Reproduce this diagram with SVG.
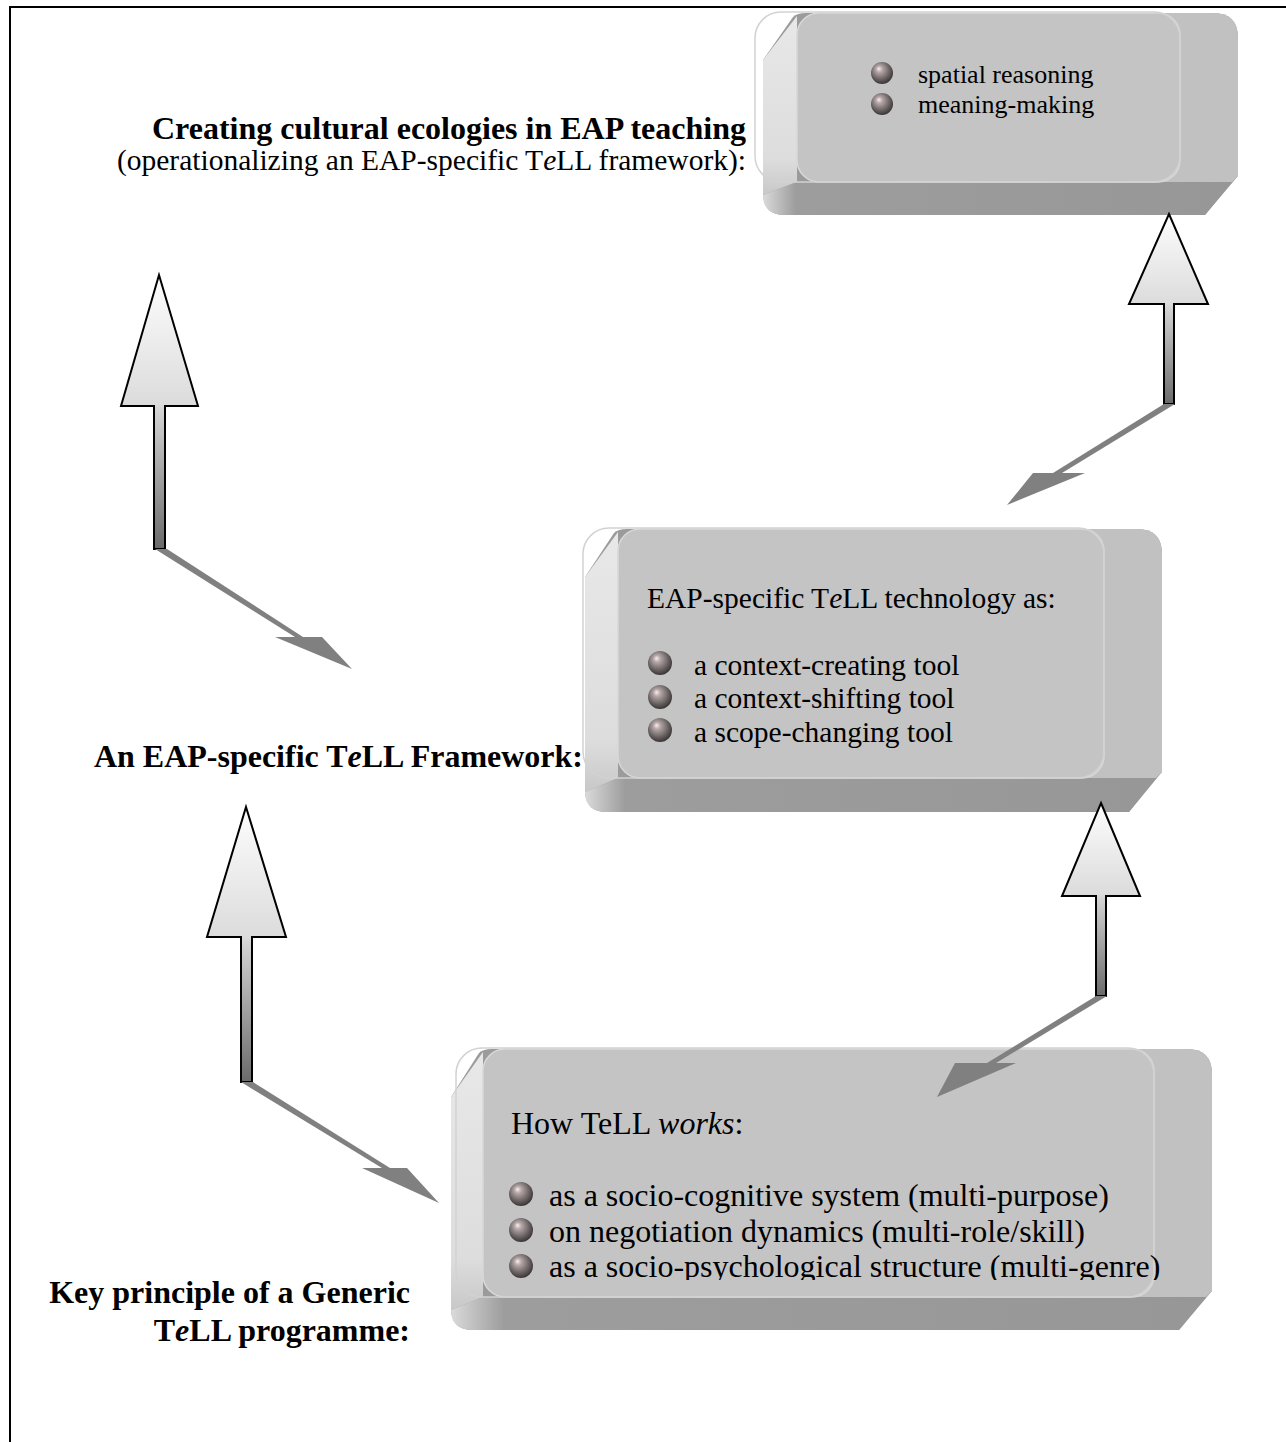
<svg xmlns="http://www.w3.org/2000/svg" width="1286" height="1442" viewBox="0 0 1286 1442">
<style>
.lbl{font-family:"Liberation Serif","Times New Roman",serif;fill:#000}
.b{font-weight:bold}
.t1{font-size:26px}
.t2{font-size:29.5px}
.t3{font-size:32px}
.lb{font-size:32px}
.silh{fill:#9b9b9b}
.rside{fill:#c1c1c1}
.lface{fill:url(#gLeft)}
.bface{fill:url(#gBottom)}
.face{fill:#c4c4c4;stroke:#d8d8d8;stroke-width:1.5}
.glass{fill:none;stroke:#d2d2d2;stroke-width:1.5}
.bul{fill:url(#gBall)}
.arr{fill:url(#gArrow);stroke:#000;stroke-width:2;stroke-linejoin:miter}
.shd{fill:#808080}
</style>
<defs>
<linearGradient id="gLeft" x1="0" y1="0" x2="0" y2="1">
<stop offset="0" stop-color="#e8e8e8"/>
<stop offset="0.8" stop-color="#dddddd"/>
<stop offset="1" stop-color="#c8c8c8"/>
</linearGradient>
<linearGradient id="gBottom" x1="0" y1="0" x2="1" y2="0">
<stop offset="0" stop-color="#dadada"/>
<stop offset="0.07" stop-color="#9d9d9d"/>
<stop offset="1" stop-color="#979797"/>
</linearGradient>
<radialGradient id="gBall" cx="0.45" cy="0.4" r="0.6" fx="0.35" fy="0.3">
<stop offset="0" stop-color="#fbecec"/>
<stop offset="0.25" stop-color="#b4a6a6"/>
<stop offset="0.7" stop-color="#6a6262"/>
<stop offset="1" stop-color="#3a3636"/>
</radialGradient>
<linearGradient id="gArrow" x1="0" y1="0" x2="0" y2="1">
<stop offset="0" stop-color="#fdfdfd"/>
<stop offset="0.47" stop-color="#dcdcdc"/>
<stop offset="0.5" stop-color="#d2d2d2"/>
<stop offset="1" stop-color="#6a6a6a"/>
</linearGradient>
<clipPath id="clipBottom"><rect x="440" y="1040" width="800" height="240"/></clipPath>
</defs>

<rect x="10" y="7" width="1300" height="1460" fill="none" stroke="#000" stroke-width="2"/>

<g id="label-top">
<text class="lbl b lb" x="746" y="139" text-anchor="end">Creating cultural ecologies in EAP teaching</text>
<text class="lbl" style="font-size:29.5px" x="746" y="170" text-anchor="end">(operationalizing an EAP-specific T<tspan font-style="italic">e</tspan>LL framework):</text>
</g>

<g id="label-middle">
<text class="lbl b lb" x="583" y="767" text-anchor="end">An EAP-specific T<tspan font-style="italic">e</tspan>LL Framework:</text>
</g>

<g id="label-bottom">
<text class="lbl b lb" x="410" y="1303" text-anchor="end">Key principle of a Generic</text>
<text class="lbl b lb" x="410" y="1341" text-anchor="end">T<tspan font-style="italic">e</tspan>LL programme:</text>
</g>

<g id="box-top">
<path class="silh" d="M763,60 L793,17 Q797,13 806,13 H1213 Q1238,13 1238,38 V176 L1205,215 H785 Q763,215 763,193 Z"/>
<path class="rside" d="M1150,13 H1213 Q1238,13 1238,38 V176 L1232,182 H1150 Z"/>
<path class="lface" d="M763,60 L797,16 V182 L763,195 Z"/>
<path class="bface" d="M797,182 H1232 L1205,215 H785 Q763,215 763,195 Z"/>
<rect class="face" x="797" y="13" width="383" height="169" rx="22"/>
<rect class="glass" x="755" y="12" width="425" height="170" rx="26"/>
<circle class="bul" cx="882" cy="73" r="11"/>
<circle class="bul" cx="882" cy="104" r="11"/>
<text class="lbl t1" x="918" y="83">spatial reasoning</text>
<text class="lbl t1" x="918" y="113">meaning-making</text>
</g>

<g id="box-middle">
<path class="silh" d="M585,577 L614,533 Q618,529 627,529 H1137 Q1162,529 1162,554 V772 L1129,812 H607 Q585,812 585,790 Z"/>
<path class="rside" d="M1074,529 H1137 Q1162,529 1162,554 V772 L1156,778 H1074 Z"/>
<path class="lface" d="M585,577 L618,532 V778 L585,792 Z"/>
<path class="bface" d="M618,778 H1156 L1129,812 H607 Q585,812 585,792 Z"/>
<rect class="face" x="618" y="529" width="486" height="249" rx="22"/>
<rect class="glass" x="583" y="528" width="521" height="250" rx="26"/>
<text class="lbl t2" x="647" y="608">EAP-specific T<tspan font-style="italic">e</tspan>LL technology as:</text>
<circle class="bul" cx="660" cy="663" r="12"/>
<circle class="bul" cx="660" cy="697" r="12"/>
<circle class="bul" cx="660" cy="730" r="12"/>
<text class="lbl t2" x="694" y="675">a context-creating tool</text>
<text class="lbl t2" x="694" y="708">a context-shifting tool</text>
<text class="lbl t2" x="694" y="742">a scope-changing tool</text>
</g>

<g id="box-bottom">
<path class="silh" d="M451,1097 L479,1053 Q483,1049 492,1049 H1187 Q1212,1049 1212,1074 V1291 L1179,1330 H473 Q451,1330 451,1308 Z"/>
<path class="rside" d="M1124,1049 H1187 Q1212,1049 1212,1074 V1291 L1206,1297 H1124 Z"/>
<path class="lface" d="M451,1097 L483,1052 V1297 L451,1310 Z"/>
<path class="bface" d="M483,1297 H1206 L1179,1330 H473 Q451,1330 451,1310 Z"/>
<rect class="face" x="483" y="1049" width="671" height="248" rx="22"/>
<rect class="glass" x="456" y="1048" width="698" height="249" rx="26"/>
<g clip-path="url(#clipBottom)">
<text class="lbl t3" x="511" y="1134">How TeLL <tspan font-style="italic">works</tspan>:</text>
<circle class="bul" cx="521" cy="1194" r="12"/>
<circle class="bul" cx="521" cy="1230" r="12"/>
<circle class="bul" cx="521" cy="1266" r="12"/>
<text class="lbl t3" x="549" y="1206">as a socio-cognitive system (multi-purpose)</text>
<text class="lbl t3" x="549" y="1242">on negotiation dynamics (multi-role/skill)</text>
<text class="lbl t3" x="549" y="1277">as a socio-psychological structure (multi-genre)</text>
</g>
</g>

<g id="connectors">
<g id="arrow-left-top">
<path class="arr" d="M159,275 L198,406 H165 V549 H154 V406 H121 Z"/>
<path class="shd" d="M155,549 H167 L303,637 H295 Z"/>
<path class="shd" d="M275,637 H322 L352,669 Z"/>
</g>
<g id="arrow-right-top">
<path class="arr" d="M1169,214 L1208,304 H1174 V404 H1164 V304 H1129 Z"/>
<path class="shd" d="M1164,404 H1175 L1062,473 H1053 Z"/>
<path class="shd" d="M1033,473 H1085 L1007,505 Z"/>
</g>
<g id="arrow-left-bottom">
<path class="arr" d="M246,807 L286,937 H252 V1082 H241 V937 H207 Z"/>
<path class="shd" d="M241,1082 H253 L390,1168 H382 Z"/>
<path class="shd" d="M362,1168 H407 L439,1203 Z"/>
</g>
<g id="arrow-right-middle">
<path class="arr" d="M1101,803 L1140,896 H1106 V996 H1096 V896 H1062 Z"/>
<path class="shd" d="M1096,996 H1107 L996,1063 H987 Z"/>
<path class="shd" d="M955,1063 H1016 L937,1097 Z"/>
</g>
</g>
</svg>
